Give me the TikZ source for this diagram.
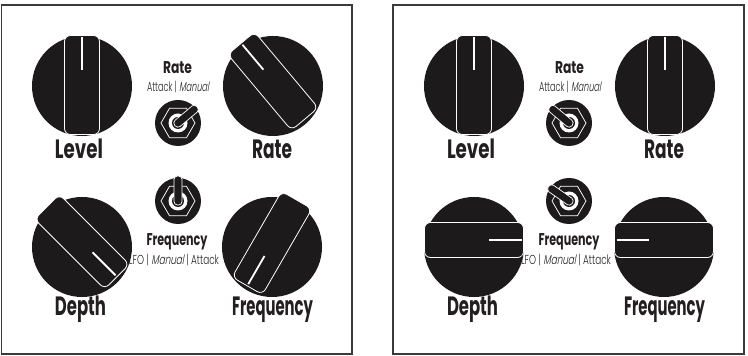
\documentclass[tikz,border=0pt]{standalone}
\usepackage{fontspec}
\usepackage{graphicx}
\newfontfamily\condfont{Poppins}[FakeStretch=0.68]
\newfontfamily\lightfont{Poppins Light}[FakeStretch=0.68]
\newfontfamily\lightslant{Poppins Light}[FakeStretch=0.68, FakeSlant=0.18]
\definecolor{knobblack}{HTML}{1C1A1B}
\definecolor{inkgray}{HTML}{231F20}
\definecolor{framegray}{HTML}{3A3A3A}
\newcommand{\slantpart}[1]{{\lightslant #1}}
\newcommand{\fitw}[2]{\resizebox{#1pt}{\height}{#2}}
\tikzset{
  panelframe/.style={draw=framegray, line width=1.2pt},
  biglabel/.style={font=\condfont\bfseries\fontsize{26.5}{27}\selectfont, text=inkgray, anchor=base, inner sep=0pt},
  headlabel/.style={font=\condfont\bfseries\fontsize{17}{18}\selectfont, text=inkgray, anchor=base, inner sep=0pt},
  sublabel/.style={font=\lightfont\fontsize{13}{14}\selectfont, text=inkgray, anchor=base, inner sep=0pt},
  pics/knob/.style={code={
    \fill[knobblack] (0,0) circle (50);
    \begin{scope}[yshift={(1+6*abs(sin(#1)))*1pt}, rotate=#1]
      \filldraw[fill=knobblack, draw=white, line width=0.8pt, rounded corners=6pt] (-17.5,-49.5) rectangle (17.5,49.5);
      \draw[white, line width=1.8pt] (0,47.5) -- (0,15);
    \end{scope}
  }},
  pics/toggle/.style={code={
    \fill[knobblack] (0,0) circle (23);
    \draw[white, line width=0.75pt] (0:17) -- (60:17) -- (120:17) -- (180:17) -- (240:17) -- (300:17) -- cycle;
    \fill[white] (0,0) circle (9.5);
    \fill[knobblack] (0,0) circle (6);
    \begin{scope}[rotate=#1]
      \filldraw[fill=knobblack, draw=white, line width=0.7pt, rounded corners=3.5pt] (-4,-4) rectangle (4,25);
    \end{scope}
  }}
}
\begin{document}
\begin{tikzpicture}[x=1pt, y=1pt]
  \useasboundingbox (0,0) rectangle (748,356);
  % panels
  \draw[panelframe] (1.5,2) rectangle (352,351);
  \draw[panelframe] (393,2) rectangle (744,351);

  % ---------- left panel ----------
  \pic (kLevelA) at (82,270) {knob=0};
  \pic (kRateA) at (273,270) {knob=40};
  \pic (kDepthA) at (82,109) {knob=-135};
  \pic (kFreqA) at (272,109) {knob=150};
  \pic (sRateA) at (178,233) {toggle=-50};
  \pic (sFreqA) at (178,155) {toggle=0};
  \node[biglabel] (tLevelA) at (79,197) {\fitw{48}{Level}};
  \node[biglabel] (tRateA) at (272,197) {\fitw{40}{Rate}};
  \node[biglabel] (tDepthA) at (80.5,40) {\fitw{51}{Depth}};
  \node[biglabel] (tFreqA) at (272.5,40) {\fitw{81}{Frequency}};
  \node[headlabel] (hRateA) at (177.5,282) {\fitw{29}{Rate}};
  \node[sublabel] (oRateA) at (178,264.3) {\fitw{62}{Attack | \slantpart{Manual}}};
  \node[headlabel] (hFreqA) at (177,110) {\fitw{61}{Frequency}};
  \node[sublabel] (oFreqA) at (174,91) {\fitw{90}{LFO | \slantpart{Manual} | Attack}};

  % ---------- right panel ----------
  \pic (kLevelB) at (474,270) {knob=0};
  \pic (kRateB) at (665,270) {knob=0};
  \pic (kDepthB) at (474,109) {knob=-90};
  \pic (kFreqB) at (664,109) {knob=90};
  \pic (sRateB) at (569,233) {toggle=50};
  \pic (sFreqB) at (569,155) {toggle=55};
  \node[biglabel] (tLevelB) at (471,197) {\fitw{48}{Level}};
  \node[biglabel] (tRateB) at (664,197) {\fitw{40}{Rate}};
  \node[biglabel] (tDepthB) at (472.5,40) {\fitw{51}{Depth}};
  \node[biglabel] (tFreqB) at (664.5,40) {\fitw{81}{Frequency}};
  \node[headlabel] (hRateB) at (569.5,282) {\fitw{29}{Rate}};
  \node[sublabel] (oRateB) at (570,264.3) {\fitw{62}{Attack | \slantpart{Manual}}};
  \node[headlabel] (hFreqB) at (569,110) {\fitw{61}{Frequency}};
  \node[sublabel] (oFreqB) at (566,91) {\fitw{90}{LFO | \slantpart{Manual} | Attack}};
\end{tikzpicture}
\end{document}
